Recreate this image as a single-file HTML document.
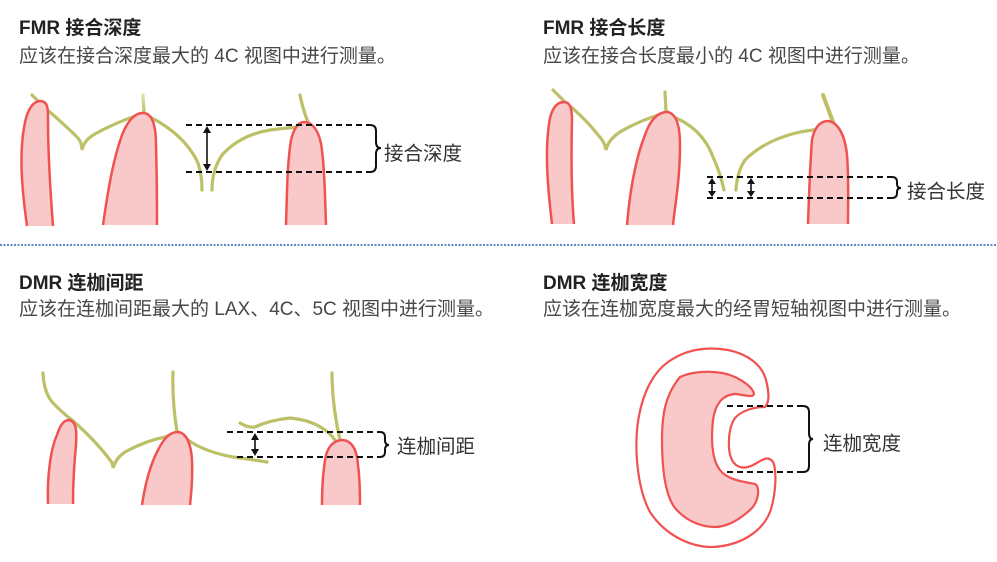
<!DOCTYPE html>
<html><head><meta charset="utf-8"><style>
html,body{margin:0;padding:0;background:#fff;}
svg{display:block;}
.t{font-family:"Liberation Sans","Noto Sans CJK SC",sans-serif;}
</style></head><body>
<svg width="997" height="562" viewBox="0 0 997 562" xmlns="http://www.w3.org/2000/svg">
<defs>
<linearGradient id="vg" x1="0" y1="0" x2="0" y2="1">
<stop offset="0" stop-color="#dde3a6"/><stop offset="1" stop-color="#bcc066"/>
</linearGradient>
</defs>
<rect width="997" height="562" fill="#fff"/>

<!-- Titles -->
<g class="t">
<text x="19" y="34" font-size="19" font-weight="bold" fill="#222">FMR 接合深度</text>
<text x="19" y="62" font-size="19" fill="#484848">应该在接合深度最大的 4C 视图中进行测量。</text>
<text x="543" y="34" font-size="19" font-weight="bold" fill="#222">FMR 接合长度</text>
<text x="543" y="62" font-size="19" fill="#484848">应该在接合长度最小的 4C 视图中进行测量。</text>
<text x="19" y="289" font-size="19" font-weight="bold" fill="#222">DMR 连枷间距</text>
<text x="19" y="315" font-size="19" fill="#484848">应该在连枷间距最大的 LAX、4C、5C 视图中进行测量。</text>
<text x="543" y="289" font-size="19" font-weight="bold" fill="#222">DMR 连枷宽度</text>
<text x="543" y="315" font-size="19" fill="#484848">应该在连枷宽度最大的经胃短轴视图中进行测量。</text>
</g>

<!-- separator -->
<line x1="0" y1="245" x2="997" y2="245" stroke="#2a62b0" stroke-width="1.6" stroke-dasharray="2 1.5"/>

<!-- ===== Panel 1 ===== -->
<g fill="none" stroke="#bcc066" stroke-width="3.2" stroke-linecap="round">
<path d="M32,95 L44,107 Q65,125 78,138 Q82,143 82,150 Q84,140 95,134 Q118,121 145,113"/>
<path d="M143,95 L144,113" stroke="url(#vg)"/>
<path d="M150,117 Q185,135 198,163 Q202,175 202,190"/>
<path d="M212,190 Q212,170 222,155 Q240,135 270,130 Q285,128 300,127"/>
<path d="M300,95 Q303,110 308,122"/>
</g>
<g fill="#f9c8c8" stroke="#f05252" stroke-width="2.5" stroke-linejoin="round">
<path d="M27,226 C22,190 18,150 26,118 C30,105 35,101 41,101 C47,102 48,106 48,118 C48,160 51,200 53,226"/>
<path d="M103,225 C108,190 113,160 122,135 C128,120 135,113 143,113 C152,113 156,125 156,145 C157,180 157,205 157,225"/>
<path d="M286,225 C287,195 287,165 291,140 C294,128 298,122 304,122 C313,122 320,132 322,150 C325,175 325,200 326,225"/>
</g>
<g fill="none" stroke="#111" stroke-width="2">
<path d="M186,125 H370 M186,172 H370" stroke-dasharray="6 4"/>
<path d="M370,125 Q376,125 376,131 L376,142 Q376,148 381,148 Q376,148 376,154 L376,166 Q376,172 370,172"/>
<path d="M207,131 V166" stroke-width="1.6"/>
</g>
<polygon points="207,126 203,133 211,133" fill="#111"/>
<polygon points="207,171 203,164 211,164" fill="#111"/>
<text class="t" x="384" y="160" font-size="19.5" fill="#333">接合深度</text>

<!-- ===== Panel 2 ===== -->
<g fill="none" stroke="#bcc066" stroke-width="3.2" stroke-linecap="round">
<path d="M553,90 L565,102 Q585,118 598,135 Q605,142 606,150 Q608,140 620,132 Q640,120 668,112"/>
<path d="M665,92 L666,112"/>
<path d="M676,118 Q703,130 713,157 Q720,172 724,190"/>
<path d="M736,190 Q737,172 745,160 Q765,140 800,132 Q812,130 820,129"/>
<path d="M823,95 L833,122" stroke-width="4"/>
</g>
<g fill="#f9c8c8" stroke="#f05252" stroke-width="2.5" stroke-linejoin="round">
<path d="M552,224 C548,190 544,150 550,118 C553,106 558,102 564,102 C570,102 572,108 572,120 C571,160 572,200 574,224"/>
<path d="M627,225 C630,190 635,160 645,135 C650,120 658,112 667,112 C676,113 680,125 680,145 C680,180 675,205 673,225"/>
<path d="M808,224 C809,195 810,165 812,140 C814,128 820,121 828,121 C838,122 845,135 847,155 C849,180 848,205 848,224"/>
</g>
<g fill="none" stroke="#111" stroke-width="2">
<path d="M707,177 H892 M707,198 H892" stroke-dasharray="6 4"/>
<path d="M892,177 Q897,177 897,182 L897,184 Q897,188 901,188 Q897,188 897,192 L897,193 Q897,198 892,198"/>
<path d="M712,183 V192 M751,183 V192" stroke-width="1.6"/>
</g>
<polygon points="712,178 708,184 716,184" fill="#111"/>
<polygon points="712,197 708,191 716,191" fill="#111"/>
<polygon points="751,178 747,184 755,184" fill="#111"/>
<polygon points="751,197 747,191 755,191" fill="#111"/>
<text class="t" x="907" y="198" font-size="19.5" fill="#333">接合长度</text>

<!-- ===== Panel 3 ===== -->
<g fill="none" stroke="#bcc066" stroke-width="3.2" stroke-linecap="round">
<path d="M43,373 Q44,395 55,405 Q65,415 72,420 Q95,440 110,460 Q113,463 113,468 Q116,458 125,452 Q145,441 165,437 Q172,434 178,432"/>
<path d="M173,372 Q172,400 177,432"/>
<path d="M188,440 Q205,452 233,457 Q255,460 267,462"/>
<path d="M240,423 Q248,428 255,427 Q270,420 290,418 Q310,420 322,428 Q330,433 335,440"/>
<path d="M332,373 Q332,405 340,440"/>
</g>
<g fill="#f9c8c8" stroke="#f05252" stroke-width="2.5" stroke-linejoin="round">
<path d="M48,504 C47,480 50,450 57,435 C60,425 64,420 69,420 C76,421 77,430 76,445 C74,465 73,485 73,504"/>
<path d="M142,505 C145,485 150,465 158,450 C164,438 170,432 178,432 C187,433 191,445 192,460 C193,480 191,495 190,505"/>
<path d="M322,505 C322,485 323,470 326,455 C329,445 335,440 343,440 C352,441 357,450 358,465 C360,480 360,495 360,505"/>
</g>
<g fill="none" stroke="#111" stroke-width="2">
<path d="M227,432 H380 M237,457 H380" stroke-dasharray="6 4"/>
<path d="M380,432 Q385,432 385,437 L385,440 Q385,445 389,445 Q385,445 385,450 L385,452 Q385,457 380,457"/>
<path d="M255,439 V450" stroke-width="1.6"/>
</g>
<polygon points="255,433 251,440 259,440" fill="#111"/>
<polygon points="255,456 251,449 259,449" fill="#111"/>
<text class="t" x="397" y="453" font-size="19.5" fill="#333">连枷间距</text>

<!-- ===== Panel 4 ===== -->
<path d="M765,407 C755,407 742,410 735,418 C728,428 727,450 732,460 C736,468 745,470 755,464 C762,460 768,455 773,462 C777,470 776,495 770,512 C762,532 740,546 712,547 C690,547 665,535 650,512 C638,490 635,455 637,430 C640,400 650,375 668,362 C685,350 705,346 728,350 C748,354 762,365 766,380 C769,392 770,402 765,407 Z" fill="#fff" stroke="#f05252" stroke-width="2.2" stroke-linejoin="round"/>
<path d="M680,377 C695,370 720,370 735,377 C745,382 753,388 754,394 C753,398 745,395 735,394 C722,395 715,405 713,420 C711,440 712,460 720,470 C727,480 745,482 755,484 C760,487 759,500 752,508 C742,518 728,527 715,527 C700,527 685,520 675,508 C665,495 662,470 662,440 C662,415 665,395 680,377 Z" fill="#f9c8c8" stroke="#f05252" stroke-width="2.2" stroke-linejoin="round"/>
<g fill="none" stroke="#111" stroke-width="2">
<path d="M727,406 H803 M727,472 H803" stroke-dasharray="6 4"/>
<path d="M803,406 Q809,406 809,412 L809,433 Q809,439 813,439 Q809,439 809,445 L809,466 Q809,472 803,472"/>
</g>
<text class="t" x="823" y="450" font-size="19.5" fill="#333">连枷宽度</text>
</svg>
</body></html>
